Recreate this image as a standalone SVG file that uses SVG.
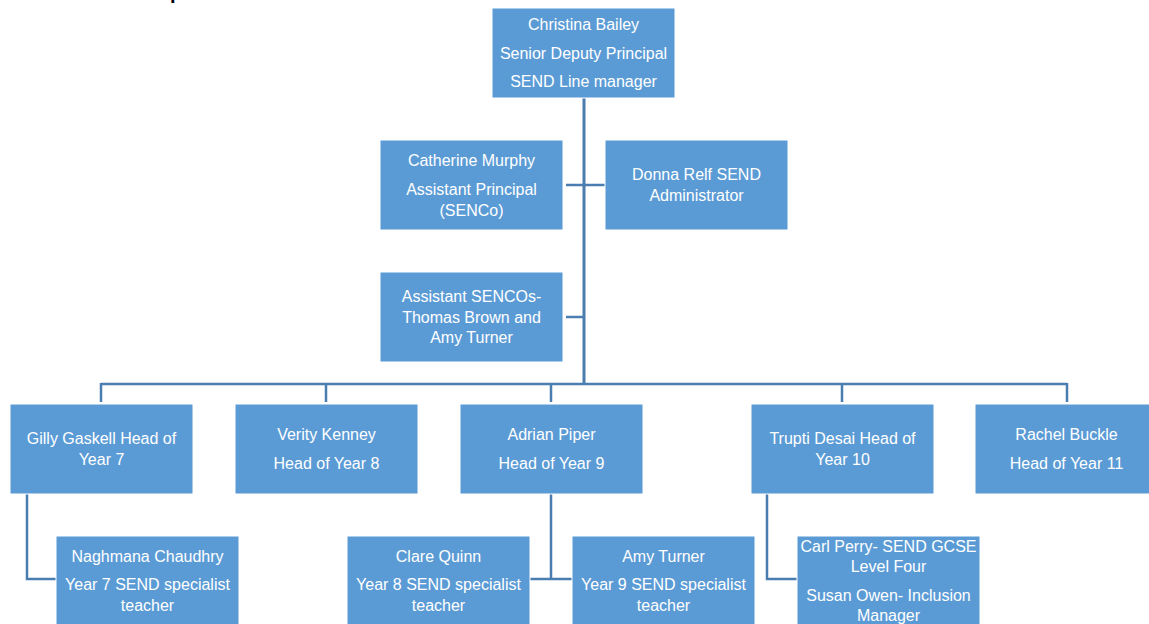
<svg xmlns="http://www.w3.org/2000/svg" width="1149" height="624" viewBox="0 0 1149 624">
<style>
.box{fill:#5b9bd5;stroke:#ffffff;stroke-width:1}
.t{font-family:"Liberation Sans",Arial,sans-serif;font-size:16px;fill:#ffffff;text-anchor:middle}
.c{fill:none;stroke:#4a7db0;stroke-width:2.5}
.trunk{fill:none;stroke:#4a7db0;stroke-width:3}
</style>
<rect width="1149" height="624" fill="#ffffff"/>
<text x="170" y="-1" font-family="Liberation Sans,Arial,sans-serif" font-size="20" font-weight="bold" fill="#000">p</text>
<g id="connectors">
<path class="trunk" d="M584 98 V384"/>
<path class="c" d="M566 185 H605"/>
<path class="c" d="M566 317 H584"/>
<path class="c" d="M101 384 H1067 M101 383 V402 M326 383 V402 M551 383 V402 M842 383 V402 M1067 383 V402"/>
<path class="c" d="M27 494 V579 H56"/>
<path class="c" d="M551 494 V579 M530 579 H572"/>
<path class="c" d="M767 494 V579 H797"/>
</g>
<g id="christina"><rect class="box" x="492" y="8" width="183" height="90"/>
<text class="t" x="583.5" y="30">Christina Bailey</text>
<text class="t" x="583.5" y="59">Senior Deputy Principal</text>
<text class="t" x="583.5" y="87">SEND Line manager</text></g>
<g id="catherine"><rect class="box" x="380" y="140" width="183" height="90"/>
<text class="t" x="471.5" y="166">Catherine Murphy</text>
<text class="t" x="471.5" y="195">Assistant Principal</text>
<text class="t" x="471.5" y="216">(SENCo)</text></g>
<g id="donna"><rect class="box" x="605" y="140" width="183" height="90"/>
<text class="t" x="696.5" y="180">Donna Relf SEND</text>
<text class="t" x="696.5" y="201">Administrator</text></g>
<g id="assistant-sencos"><rect class="box" x="380" y="272" width="183" height="90"/>
<text class="t" x="471.5" y="302">Assistant SENCOs-</text>
<text class="t" x="471.5" y="323">Thomas Brown and</text>
<text class="t" x="471.5" y="343">Amy Turner</text></g>
<g id="gilly"><rect class="box" x="10" y="404" width="183" height="90"/>
<text class="t" x="101.5" y="444">Gilly Gaskell Head of</text>
<text class="t" x="101.5" y="465">Year 7</text></g>
<g id="verity"><rect class="box" x="235" y="404" width="183" height="90"/>
<text class="t" x="326.5" y="440">Verity Kenney</text>
<text class="t" x="326.5" y="469">Head of Year 8</text></g>
<g id="adrian"><rect class="box" x="460" y="404" width="183" height="90"/>
<text class="t" x="551.5" y="440">Adrian Piper</text>
<text class="t" x="551.5" y="469">Head of Year 9</text></g>
<g id="trupti"><rect class="box" x="751" y="404" width="183" height="90"/>
<text class="t" x="842.5" y="444">Trupti Desai Head of</text>
<text class="t" x="842.5" y="465">Year 10</text></g>
<g id="rachel"><rect class="box" x="975" y="404" width="183" height="90"/>
<text class="t" x="1066.5" y="440">Rachel Buckle</text>
<text class="t" x="1066.5" y="469">Head of Year 11</text></g>
<g id="naghmana"><rect class="box" x="56" y="536" width="183" height="95"/>
<text class="t" x="147.5" y="562">Naghmana Chaudhry</text>
<text class="t" x="147.5" y="590">Year 7 SEND specialist</text>
<text class="t" x="147.5" y="611">teacher</text></g>
<g id="clare"><rect class="box" x="347" y="536" width="183" height="95"/>
<text class="t" x="438.5" y="562">Clare Quinn</text>
<text class="t" x="438.5" y="590">Year 8 SEND specialist</text>
<text class="t" x="438.5" y="611">teacher</text></g>
<g id="amy"><rect class="box" x="572" y="536" width="183" height="95"/>
<text class="t" x="663.5" y="562">Amy Turner</text>
<text class="t" x="663.5" y="590">Year 9 SEND specialist</text>
<text class="t" x="663.5" y="611">teacher</text></g>
<g id="carl-susan"><rect class="box" x="797" y="536" width="183" height="95"/>
<text class="t" x="888.5" y="552">Carl Perry- SEND GCSE</text>
<text class="t" x="888.5" y="572">Level Four</text>
<text class="t" x="888.5" y="601">Susan Owen- Inclusion</text>
<text class="t" x="888.5" y="621">Manager</text></g>
</svg>
